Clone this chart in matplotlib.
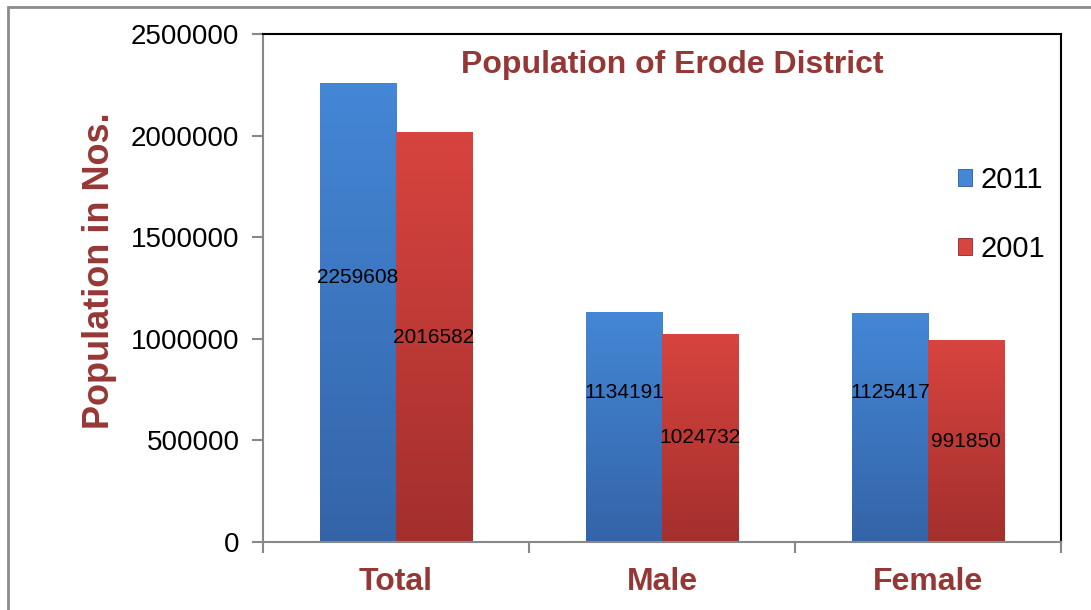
import numpy as np
import matplotlib
matplotlib.use("Agg")
import matplotlib.pyplot as plt
from matplotlib.colors import LinearSegmentedColormap
from matplotlib.patches import Rectangle

# data
categories = ["Total", "Male", "Female"]
years = ["2011", "2001"]
pop_2011 = [2259608, 1134191, 1125417]
pop_2001 = [2016582, 1024732, 991850]

plt.rcParams['font.family'] = ['Liberation Sans', 'DejaVu Sans']

dark_red = "#953735"
blue_top, blue_bot = "#4487D6", "#3464A8"
red_top, red_bot = "#D8443F", "#A32F2D"

fig = plt.figure(figsize=(10.91, 6.10), dpi=100)
ax = fig.add_axes([263/1091, 1 - 542/610, (1061-263)/1091, (542-34)/610])

x = np.arange(len(categories))
w = 0.286
b1 = ax.bar(x - w/2, pop_2011, w, color=blue_bot, edgecolor="#2E5A95", linewidth=0.6, label=years[0], zorder=2)
b2 = ax.bar(x + w/2, pop_2001, w, color=red_bot, edgecolor="#8A2826", linewidth=0.6, label=years[1], zorder=2)

# vertical gradient fill inside each bar
grad = np.linspace(0, 1, 256).reshape(-1, 1)
for bars, c_top, c_bot in [(b1, blue_top, blue_bot), (b2, red_top, red_bot)]:
    cmap = LinearSegmentedColormap.from_list("g", [c_bot, c_top])
    for p in bars:
        x0, y0 = p.get_x(), p.get_y()
        im = ax.imshow(grad, cmap=cmap, aspect="auto", origin="lower",
                       extent=(x0, x0 + p.get_width(), y0, y0 + p.get_height()), zorder=2.5)
        im.set_clip_path(p)

# value labels (blue ones sit a little above the middle, like the original)
for p, v in zip(b1, pop_2011):
    ax.annotate(str(v), (p.get_x() + p.get_width()/2, v/2), xytext=(0, 25),
                textcoords="offset points", ha="center", va="center", fontsize=15, zorder=4)
for p, v in zip(b2, pop_2001):
    ax.annotate(str(v), (p.get_x() + p.get_width()/2, v/2), xytext=(0, 0),
                textcoords="offset points", ha="center", va="center", fontsize=15, zorder=4)

ax.set_xlim(-0.5, 2.5)
ax.set_ylim(0, 2500000)
ax.set_yticks(np.arange(0, 2500001, 500000))
ax.set_yticklabels([str(t) for t in range(0, 2500001, 500000)])
ax.tick_params(axis="y", labelsize=20, length=8, width=1.5, color="#888888", pad=9)

ax.set_xticks(x)
ax.set_xticklabels(categories, fontsize=23, fontweight="bold", color=dark_red)
ax.set_xticks([-0.5, 0.5, 1.5, 2.5], minor=True)
ax.tick_params(axis="x", which="major", length=0, pad=18)
ax.tick_params(axis="x", which="minor", length=8, width=1.5, color="#888888")

for s in ["left", "bottom"]:
    ax.spines[s].set_color("#888888")
    ax.spines[s].set_linewidth(1.5)
for s in ["top", "right"]:
    ax.spines[s].set_color("black")
    ax.spines[s].set_linewidth(1.5)

ax.set_ylabel("Population in Nos.", fontsize=26, fontweight="bold", color=dark_red)
ax.yaxis.set_label_coords(-0.183, 0.535)
ax.text(0.513, 0.938, "Population of Erode District", transform=ax.transAxes,
        ha="center", va="center", fontsize=23, fontweight="bold", color=dark_red)

leg = ax.legend(loc="center left", bbox_to_anchor=(0.8375, 0.645), frameon=False,
                fontsize=21, handlelength=0.5, handleheight=0.5, handletextpad=0.3,
                labelspacing=1.4)
for h, c in zip(leg.legend_handles, [blue_top, red_top]):
    h.set_facecolor(c)

# outer chart border
fig.patches.append(Rectangle((8/1091, -0.5), 2, 1.5 - 7/610, transform=fig.transFigure,
                             fill=False, edgecolor="#8c8c8c", linewidth=2))

fig.savefig("out.png", dpi=100)
